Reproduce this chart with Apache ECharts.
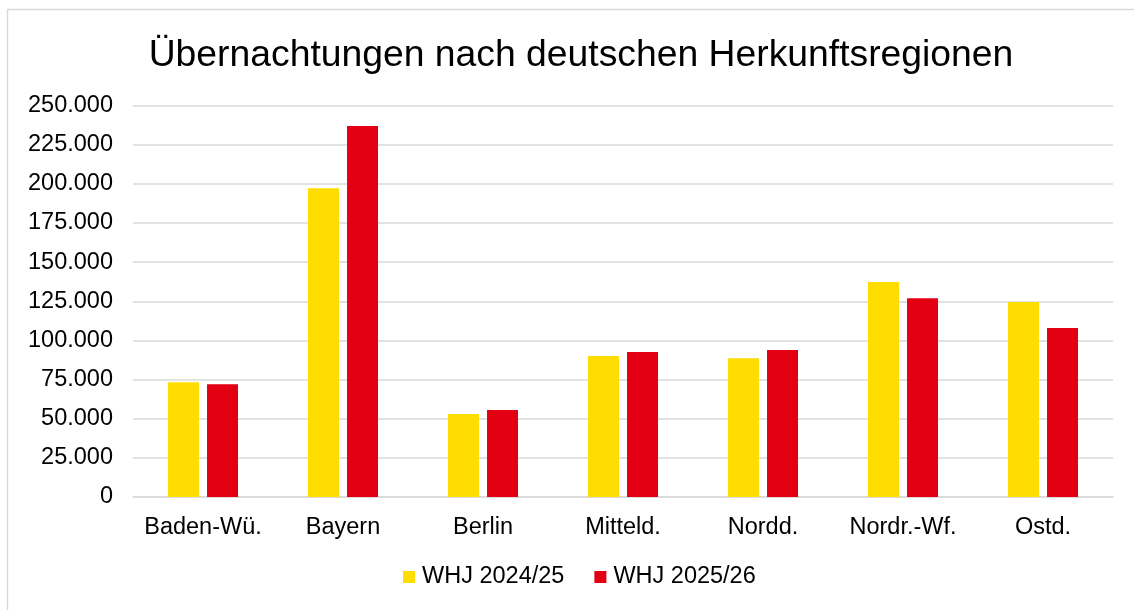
<!DOCTYPE html>
<html>
<head>
<meta charset="utf-8">
<script src="https://cdn.jsdelivr.net/npm/echarts@6/dist/echarts.min.js"></script>
<style>
html,body{margin:0;padding:0;background:#fff;}
#chart{width:1134px;height:610px;}
</style>
</head>
<body>
<div id="chart"></div>
<script>
var categories = ['Baden-Wü.', 'Bayern', 'Berlin', 'Mitteld.', 'Nordd.', 'Nordr.-Wf.', 'Ostd.'];
var seriesNames = ['WHJ 2024/25', 'WHJ 2025/26'];
var values2425 = [73200, 197100, 53000, 90000, 88600, 137300, 124500];
var values2526 = [72000, 236900, 55600, 92600, 93900, 126900, 107900];
var yTicks = {min: 0, max: 250000, interval: 25000};

function fmt(v) {
  return String(Math.round(v)).replace(/\B(?=(\d{3})+(?!\d))/g, '.');
}

var font = '"Liberation Sans", Arial, sans-serif';
var chart = echarts.init(document.getElementById('chart'), null, {renderer: 'canvas'});
chart.setOption({
  backgroundColor: '#ffffff',
  animation: false,
  graphic: [{
    type: 'rect',
    shape: {x: 7.5, y: 9.5, width: 1160, height: 640},
    style: {fill: 'none', stroke: '#d9d9d9', lineWidth: 1.5},
    silent: true
  }],
  title: {
    text: 'Übernachtungen nach deutschen Herkunftsregionen',
    left: 576,
    textAlign: 'center',
    top: 32,
    textStyle: {fontFamily: font, fontSize: 37.3, fontWeight: 'normal', color: '#000000'}
  },
  legend: {
    bottom: 16,
    left: 398,
    itemWidth: 12,
    itemHeight: 12,
    itemGap: 30,
    icon: 'rect',
    textStyle: {fontFamily: font, fontSize: 23.5, color: '#000000', padding: [0, 0, 0, 2]},
    data: seriesNames
  },
  grid: {left: 133, right: 21, top: 105.5, bottom: 113, containLabel: false},
  xAxis: {
    type: 'category',
    data: categories,
    axisLine: {show: true, lineStyle: {color: '#d9d9d9', width: 1.5}},
    axisTick: {show: false},
    axisLabel: {fontFamily: font, fontSize: 23.5, color: '#000000', margin: 19, interval: 0}
  },
  yAxis: {
    type: 'value',
    min: yTicks.min,
    max: yTicks.max,
    interval: yTicks.interval,
    axisLine: {show: false},
    axisTick: {show: false},
    splitLine: {lineStyle: {color: '#d9d9d9', width: 1.5}},
    axisLabel: {fontFamily: font, fontSize: 23.5, color: '#000000', margin: 20, formatter: fmt}
  },
  series: [
    {name: seriesNames[0], type: 'bar', data: values2425, barGap: '26%', barCategoryGap: '50%',
     itemStyle: {color: '#FFDD00'}},
    {name: seriesNames[1], type: 'bar', data: values2526, barGap: '26%', barCategoryGap: '50%',
     itemStyle: {color: '#E30012'}}
  ]
});
</script>
</body>
</html>
